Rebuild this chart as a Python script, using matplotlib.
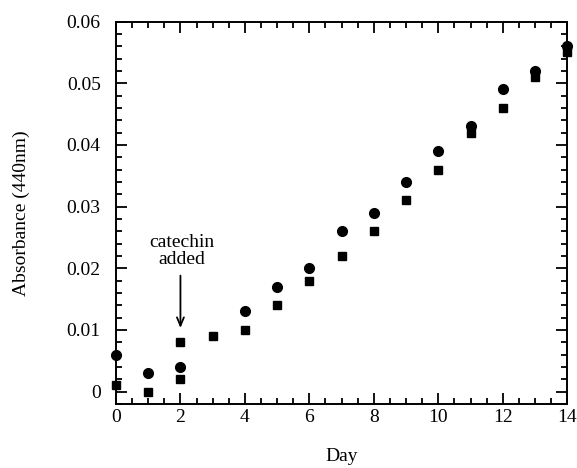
import matplotlib.pyplot as plt
from matplotlib.ticker import MultipleLocator

plt.rcParams['font.family'] = ['Liberation Serif', 'DejaVu Serif']

# circles
dias_c = [0, 1, 2, 4, 5, 6, 7, 8, 9, 10, 11, 12, 13, 14]
abs_c = [0.006, 0.003, 0.004, 0.013, 0.017, 0.020, 0.026, 0.029,
         0.034, 0.039, 0.043, 0.049, 0.052, 0.056]
# squares (two readings on day 2)
dias_s = [0, 1, 2, 2, 3, 4, 5, 6, 7, 8, 9, 10, 11, 12, 13, 14]
abs_s = [0.001, 0.0, 0.002, 0.008, 0.009, 0.010, 0.014, 0.018, 0.022, 0.026,
         0.031, 0.036, 0.042, 0.046, 0.051, 0.055]

fig = plt.figure(figsize=(5.77, 4.68), dpi=100)
ax = fig.add_axes([0.201, 0.137, 0.782, 0.817])

ax.plot(dias_c, abs_c, 'o', color='black', markersize=7, clip_on=False)
ax.plot(dias_s, abs_s, 's', color='black', markersize=6, clip_on=False)

ax.annotate("", xy=(2, 0.0103), xytext=(2, 0.0188),
            arrowprops=dict(arrowstyle='->, head_length=0.6, head_width=0.25',
                            color='black', lw=1.3, shrinkA=0, shrinkB=0))
ax.text(2.05, 0.0200, "catechin\nadded", ha='center', va='bottom',
        fontsize=14, linespacing=1.05)

ax.set_xlim(0, 14)
ax.set_ylim(-0.002, 0.06)
ax.set_xticks(range(0, 15, 2))
ax.set_yticks([0, 0.01, 0.02, 0.03, 0.04, 0.05, 0.06])
ax.set_yticklabels(["0", "0.01", "0.02", "0.03", "0.04", "0.05", "0.06"])
ax.xaxis.set_minor_locator(MultipleLocator(0.5))
ax.yaxis.set_minor_locator(MultipleLocator(0.002))
ax.tick_params(which='both', direction='in', top=True, right=True,
               labelsize=14, width=1.3)
ax.tick_params(which='major', length=8)
ax.tick_params(which='minor', length=4.5)
ax.tick_params(axis='y', pad=11)
for s in ax.spines.values():
    s.set_linewidth(1.4)

ax.set_xlabel("Day", fontsize=14, labelpad=16)
ax.set_ylabel("Absorbance (440nm)", fontsize=14, labelpad=26)

fig.savefig("out.png", dpi=100)
